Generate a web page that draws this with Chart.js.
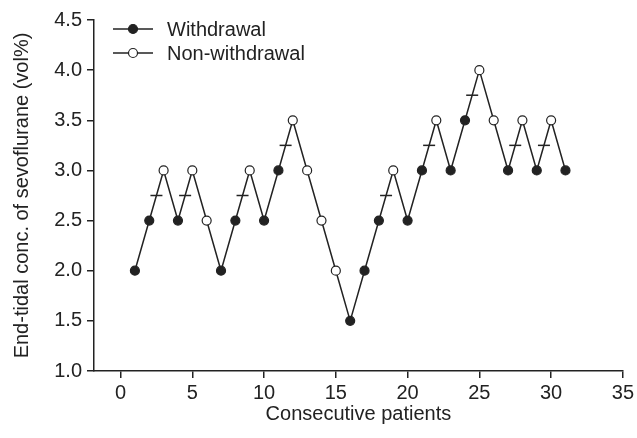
<!DOCTYPE html>
<html>
<head>
<meta charset="utf-8">
<script src="https://cdn.jsdelivr.net/npm/chart.js@4.4.0/dist/chart.umd.min.js"></script>
<style>
  html, body { margin: 0; padding: 0; background: #fff; }
  #wrap { width: 637px; height: 438px; }
</style>
</head>
<body>
<div id="wrap"><canvas id="myChart"></canvas></div>
<script>
const ink = '#222';

// patient number, end-tidal sevoflurane and whether the patient withdrew
const patients = [1,2,3,4,5,6,7,8,9,10,11,12,13,14,15,16,17,18,19,20,21,22,23,24,25,26,27,28,29,30,31];
const conc = [2.0,2.5,3.0,2.5,3.0,2.5,2.0,2.5,3.0,2.5,3.0,3.5,3.0,2.5,2.0,1.5,2.0,2.5,3.0,2.5,3.0,3.5,3.0,3.5,4.0,3.5,3.0,3.5,3.0,3.5,3.0];
const withdrawal = [1,1,0,1,0,0,1,1,0,1,1,0,0,0,0,1,1,1,0,1,1,0,1,1,0,0,1,0,1,0,1];

// crossover midpoints (dash marks)
const crossX = [2.5, 4.5, 8.5, 11.5, 18.5, 21.5, 24.5, 27.5, 29.5];
const crossY = [2.75, 2.75, 2.75, 3.25, 2.75, 3.25, 3.75, 3.25, 3.25];

const xTicks = [0, 5, 10, 15, 20, 25, 30, 35];
const legendLabels = ['Withdrawal', 'Non-withdrawal'];

const font = { family: '"Liberation Sans", Arial, sans-serif', size: 20 };

const ctx = document.getElementById('myChart').getContext('2d');

// legend drawn inside the plot: line with marker, then text
const insideLegend = {
  id: 'insideLegend',
  afterDraw(chart) {
    const c = chart.ctx;
    const a = chart.chartArea;
    c.save();
    legendLabels.forEach((txt, i) => {
      const y = a.top + 9 + i * 24;
      const x0 = a.left + 19;
      c.strokeStyle = ink;
      c.lineWidth = 1.5;
      c.beginPath();
      c.moveTo(x0, y);
      c.lineTo(x0 + 40, y);
      c.stroke();
      c.beginPath();
      c.arc(x0 + 20, y, 4.5, 0, Math.PI * 2);
      c.fillStyle = i === 0 ? ink : '#fff';
      c.fill();
      c.lineWidth = 1.2;
      c.stroke();
      c.fillStyle = ink;
      c.font = font.size + 'px ' + font.family;
      c.textBaseline = 'middle';
      c.fillText(txt, x0 + 54, y + 1);
    });
    c.restore();
  }
};

const data = {
  datasets: [{
    label: 'Sequence',
    data: patients.map((p, i) => ({ x: p, y: conc[i] })),
    borderColor: ink,
    borderWidth: 1.5,
    pointRadius: 4.5,
    pointBorderWidth: 1.2,
    pointBorderColor: ink,
    pointBackgroundColor: withdrawal.map(w => w ? ink : '#fff'),
    tension: 0,
    showLine: true,
  }, {
    label: 'Crossover',
    data: crossX.map((x, i) => ({ x: x, y: crossY[i] })),
    showLine: false,
    pointStyle: 'line',
    pointRadius: 6,
    pointBorderWidth: 1.5,
    borderColor: ink,
    pointBorderColor: ink,
  }]
};

const config = {
  type: 'scatter',
  data: data,
  plugins: [insideLegend],
  options: {
    responsive: true,
    maintainAspectRatio: false,
    animation: false,
    layout: { padding: { left: 6, right: 14, top: 20, bottom: 8 } },
    plugins: {
      legend: { display: false },
      tooltip: { enabled: false },
    },
    scales: {
      x: {
        type: 'linear',
        min: -1.85,
        max: 35,
        afterBuildTicks: s => { s.ticks = xTicks.map(v => ({ value: v })); },
        afterFit: s => { s.height = 438 - 371 - 8; },
        border: { color: ink, width: 1.5 },
        grid: { drawOnChartArea: false, color: ink, lineWidth: 1.5, tickLength: 7 },
        ticks: { color: ink, font: font, padding: 3, maxRotation: 0 },
        title: { display: true, text: 'Consecutive patients', color: ink, font: font, padding: { top: 4, bottom: 4 } },
      },
      y: {
        min: 1.0,
        max: 4.5,
        afterFit: s => { s.width = 94 - 6; },
        border: { color: ink, width: 1.5 },
        grid: { drawOnChartArea: false, color: ink, lineWidth: 1.5, tickLength: 7 },
        ticks: { stepSize: 0.5, color: ink, font: font, padding: 5, callback: v => v.toFixed(1) },
        title: { display: true, text: 'End-tidal conc. of sevoflurane (vol%)', color: ink, font: font, padding: { top: 4, bottom: 4 } },
      },
    },
  },
};

const myChart = new Chart(ctx, config);
</script>
</body>
</html>
